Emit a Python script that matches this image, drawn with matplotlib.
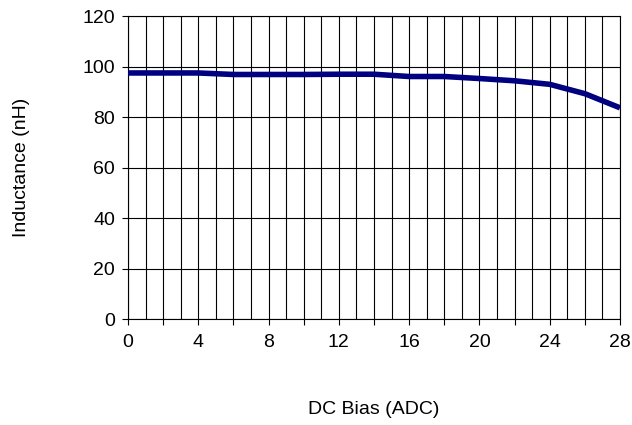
import matplotlib
matplotlib.use('Agg')
import matplotlib.pyplot as plt
import numpy as np

plt.rcParams['font.family'] = ['Liberation Sans', 'DejaVu Sans']

# DC bias current (A) and measured inductance (nH)
bias = [0, 2, 4, 6, 8, 10, 12, 14, 16, 18, 20, 22, 24, 26, 28]
inductance = [97.5, 97.5, 97.5, 96.9, 96.9, 96.9, 97.0, 97.0, 96.1, 96.1, 95.3, 94.4, 93.0, 89.3, 83.7]

x_major = [0, 4, 8, 12, 16, 20, 24, 28]
y_major = [0, 20, 40, 60, 80, 100, 120]

fig = plt.figure(figsize=(6.32, 4.25), dpi=100)
ax = fig.add_axes([0.2025, 0.249, 0.7785, 0.713])

# grid: every 1 A vertically, every 20 nH horizontally
for xv in np.arange(0, 29, 1):
    ax.axvline(xv, color='#000000', lw=0.8, zorder=1)
for yv in y_major:
    ax.axhline(yv, color='#000000', lw=0.8, zorder=1)

ax.plot(bias, inductance, color='#000080', lw=4, solid_capstyle='butt', zorder=3)

ax.set_xlim(0, 28)
ax.set_ylim(0, 120)
ax.set_xticks(x_major)
ax.set_xticks(np.arange(0, 29, 2), minor=True)
ax.set_yticks(y_major)
ax.tick_params(axis='both', which='both', direction='out', length=4.3, width=0.8,
               labelsize=14, color='black')
ax.tick_params(axis='x', which='major', pad=6.5)
ax.tick_params(axis='y', which='major', pad=5)

for s in ax.spines.values():
    s.set_linewidth(0.8)
    s.set_color('black')

ax.set_xlabel('DC Bias (ADC)', fontsize=14, labelpad=36)
ax.set_ylabel('Inductance (nH)', fontsize=14, labelpad=38)

fig.savefig('out.png', dpi=100)
